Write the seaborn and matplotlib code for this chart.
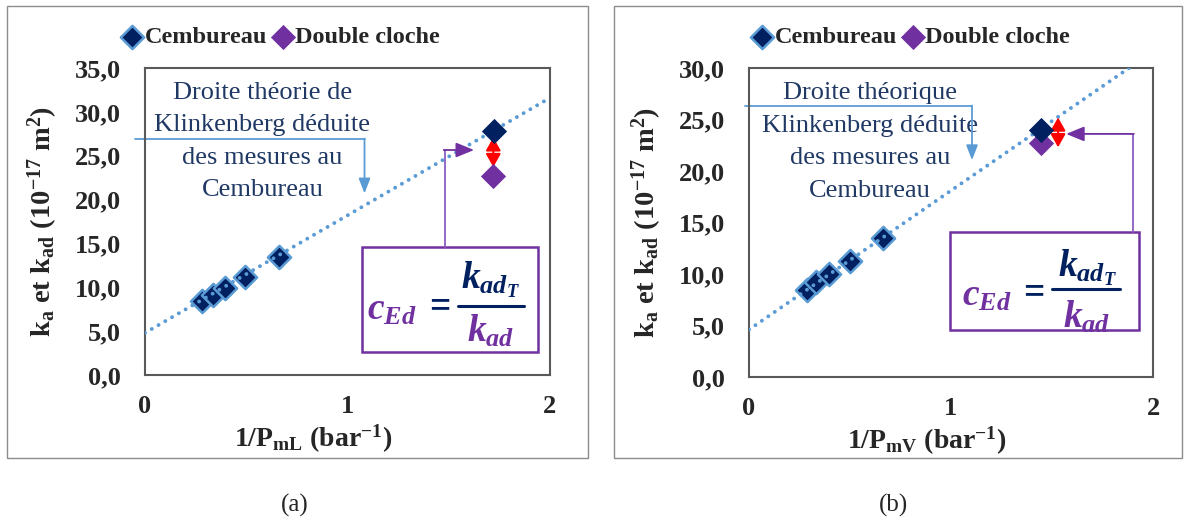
import numpy as np
import matplotlib.pyplot as plt
import seaborn as sns
from matplotlib.patches import Rectangle

# panel (a) : 1/PmL
cem_x_a = [0.28, 0.335, 0.395, 0.495, 0.66, 1.725]
cem_y_a = [8.4, 9.1, 9.95, 11.2, 13.5, 27.8]
dc_x_a = [1.72]
dc_y_a = [22.7]
klink_x_a = [0.0, 2.0]
klink_y_a = [4.8, 31.6]

# panel (b) : 1/PmV
cem_x_b = [0.285, 0.333, 0.396, 0.498, 0.662, 1.447]
cem_y_b = [8.45, 9.25, 10.0, 11.3, 13.5, 24.0]
dc_x_b = [1.447]
dc_y_b = [22.7]
klink_x_b = [0.0, 2.0]
klink_y_b = [4.6, 31.6]

xticks = [0, 1, 2]
yticks_a = [0, 5, 10, 15, 20, 25, 30, 35]
yticks_b = [0, 5, 10, 15, 20, 25, 30]

NAVY = "#002060"
EDGE = "#5B9BD5"
PURPLE = "#7030A0"
TXT = "#1F3864"
AXC = "#595959"

sns.set_style("white")
plt.rcParams["font.family"] = ["Liberation Serif", "DejaVu Serif"]
plt.rcParams["mathtext.fontset"] = "custom"
plt.rcParams["mathtext.rm"] = "Liberation Serif:bold"
plt.rcParams["mathtext.it"] = "Liberation Serif:bold:italic"
plt.rcParams["mathtext.bf"] = "Liberation Serif:bold"

W, H = 1189, 524
fig = plt.figure(figsize=(W / 100, H / 100), dpi=100)


def px(x, y):
    return (x / W, 1 - y / H)


def draw_panel(ax, cx, cy, dx, dy, kx, ky, yticks, xlab, xlab_x):
    sns.scatterplot(x=cx[:-1], y=cy[:-1], marker="D", s=140, color=NAVY,
                    edgecolor=EDGE, linewidth=1.8, ax=ax, zorder=2,
                    label="Cembureau")
    sns.scatterplot(x=dx, y=dy, marker="D", s=165, color=PURPLE,
                    edgecolor=PURPLE, linewidth=0, ax=ax, zorder=4,
                    label="Double cloche")
    sns.scatterplot(x=cx[-1:], y=cy[-1:], marker="D", s=165, color=NAVY,
                    edgecolor=NAVY, linewidth=0, ax=ax, zorder=5)
    ax.plot(kx, ky, color=EDGE, lw=2.8, ls=(0, (0.01, 2.0)),
            dash_capstyle="round", zorder=3)

    ax.set_xlim(0, 2)
    ax.set_ylim(yticks[0], yticks[-1])
    ax.set_xticks(xticks)
    ax.set_xticklabels([str(t) for t in xticks])
    ax.set_yticks(yticks)
    ax.set_yticklabels([f"{t:.1f}".replace(".", ",") for t in yticks])
    for lab in ax.get_xticklabels() + ax.get_yticklabels():
        lab.set_fontweight("bold")
        lab.set_fontsize(19)
    ax.tick_params(direction="inout", length=11, width=1.5, color=AXC)
    ax.tick_params(axis="y", pad=12)
    ax.tick_params(axis="x", pad=9)
    for sp in ax.spines.values():
        sp.set_color(AXC)
        sp.set_linewidth(1.5)

    ax.set_ylabel(r"$\mathrm{k_a\ et\ k_{ad}\ (10^{-17}\ m^2)}$", fontsize=20.5)
    ax.yaxis.set_label_coords(-0.21, 0.5)
    ax.set_xlabel(xlab, fontsize=20)
    ax.xaxis.set_label_coords(xlab_x, -0.155)
    ax.get_legend().remove()


def formula(ax, c_xy, eq_xy, num_xy, bar_x, bar_y, den_xy):
    ax.text(*c_xy, r"$c_{Ed}$", color=PURPLE, fontsize=27, ha="center", va="center")
    ax.text(*eq_xy, r"$=$", color=NAVY, fontsize=27, ha="center", va="center")
    ax.text(*num_xy, r"$k_{ad_T}$", color=NAVY, fontsize=27, ha="center", va="center")
    ax.plot(bar_x, [bar_y, bar_y], color=NAVY, lw=2.2, clip_on=False)
    ax.text(*den_xy, r"$k_{ad}$", color=PURPLE, fontsize=27, ha="center", va="center")


ax1 = fig.add_axes([145 / W, 1 - 375 / H, 405 / W, 307 / H])
ax2 = fig.add_axes([749 / W, 1 - 377 / H, 404 / W, 309 / H])

draw_panel(ax1, cem_x_a, cem_y_a, dc_x_a, dc_y_a, klink_x_a, klink_y_a,
           yticks_a, r"$\mathrm{1/P_{mL}\ (bar^{-1})}$", 0.415)
draw_panel(ax2, cem_x_b, cem_y_b, dc_x_b, dc_y_b, klink_x_b, klink_y_b,
           yticks_b, r"$\mathrm{1/P_{mV}\ (bar^{-1})}$", 0.44)

# legends
for ax, cx in [(ax1, 280), (ax2, 910)]:
    h, l = ax.get_legend_handles_labels()
    fig.legend(h[:2], l[:2], loc="center", bbox_to_anchor=px(cx, 37), ncol=2,
               frameon=False, handletextpad=0.0, columnspacing=0.15,
               handlelength=1.0,
               prop={"family": "Liberation Serif", "weight": "bold", "size": 17.5})

# --- annotations (a)
ax1.text(0.58, 26.6, "Droite théorie de\nKlinkenberg déduite\ndes mesures au\nCembureau",
         color=TXT, fontsize=19, ha="center", va="center", linespacing=1.62)
ax1.plot([-0.05, 1.084], [26.9, 26.9], color=EDGE, lw=1.3, clip_on=False)
ax1.annotate("", xy=(1.084, 20.7), xytext=(1.084, 26.95),
             arrowprops=dict(arrowstyle="-|>,head_length=0.9,head_width=0.35",
                             color=EDGE, lw=1.3, shrinkA=0, shrinkB=0))
ax1.add_patch(Rectangle((1.074, 2.62), 0.866, 11.98, fill=False, ec=PURPLE,
                        lw=1.8, clip_on=False))
ax1.plot([1.48, 1.48], [14.6, 25.65], color="#8E5CC0", lw=1.3)
ax1.annotate("", xy=(1.625, 25.65), xytext=(1.475, 25.65),
             arrowprops=dict(arrowstyle="-|>,head_length=1.1,head_width=0.45",
                             color=PURPLE, lw=1.3, shrinkA=0, shrinkB=0))
ax1.annotate("", xy=(1.72, 27.1), xytext=(1.72, 23.7),
             arrowprops=dict(arrowstyle="<|-|>,head_length=0.8,head_width=0.45",
                             color="red", lw=1.5, shrinkA=0, shrinkB=0))
formula(ax1, (1.218, 7.4), (1.446, 7.9), (1.708, 10.8), [1.545, 1.871], 7.87, (1.708, 5.0))

# --- annotations (b)
ax2.text(0.6, 22.8, "Droite théorique\nKlinkenberg déduite\ndes mesures au\nCembureau",
         color=TXT, fontsize=19, ha="center", va="center", linespacing=1.62)
ax2.plot([-0.02, 1.104], [26.3, 26.3], color=EDGE, lw=1.3, clip_on=False)
ax2.annotate("", xy=(1.104, 21.05), xytext=(1.104, 26.35),
             arrowprops=dict(arrowstyle="-|>,head_length=0.9,head_width=0.35",
                             color=EDGE, lw=1.3, shrinkA=0, shrinkB=0))
ax2.add_patch(Rectangle((0.995, 4.56), 0.935, 9.52, fill=False, ec=PURPLE,
                        lw=1.8, clip_on=False))
ax2.plot([1.90, 1.90], [14.08, 23.6], color="#8E5CC0", lw=1.3, clip_on=False)
ax2.annotate("", xy=(1.57, 23.6), xytext=(1.905, 23.6),
             arrowprops=dict(arrowstyle="-|>,head_length=1.1,head_width=0.45",
                             color=PURPLE, lw=1.3, shrinkA=0, shrinkB=0))
ax2.annotate("", xy=(1.53, 25.2), xytext=(1.53, 22.3),
             arrowprops=dict(arrowstyle="<|-|>,head_length=0.8,head_width=0.45",
                             color="red", lw=1.5, shrinkA=0, shrinkB=0))
formula(ax2, (1.178, 7.8), (1.40, 8.3), (1.673, 10.55), [1.50, 1.835], 8.54, (1.673, 5.8))

# panel frames and captions
for x0, x1 in [(7, 588), (614, 1182)]:
    fig.add_artist(Rectangle(px(x0, 458), (x1 - x0) / W, 452 / H, fill=False,
                             ec="#8C8C8C", lw=1, transform=fig.transFigure))
fig.text(*px(295, 505), "(a)", fontsize=18, ha="center", va="center")
fig.text(*px(893, 505), "(b)", fontsize=18, ha="center", va="center")

fig.savefig("out.png", dpi=100)
